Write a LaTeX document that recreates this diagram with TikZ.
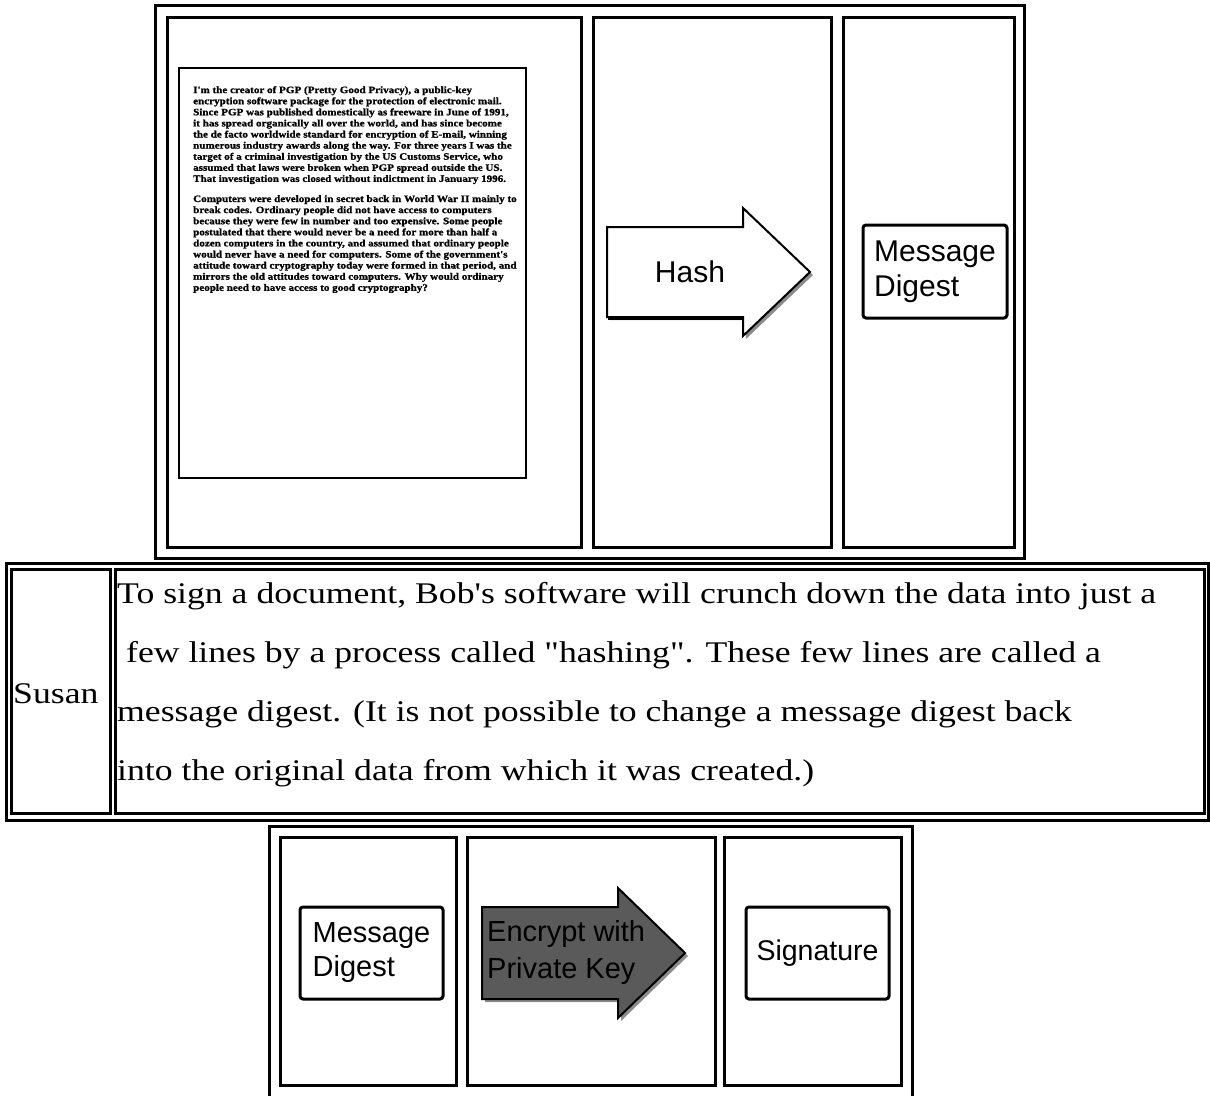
\documentclass[tikz,border=0pt]{standalone}
\usepackage{fontspec}
\newfontfamily\bodyfont{Liberation Serif}[FakeStretch=1.19]
\newfontfamily\labelfont{Liberation Sans}
\newfontfamily\pagefont{Liberation Serif}[FakeStretch=1.13,FakeBold=1.2]
\definecolor{arrowgray}{HTML}{5A5A5A}
\definecolor{shadowgray}{HTML}{8C8C8C}
\begin{document}
\begin{tikzpicture}[x=1pt,y=-1pt,
  frame/.style={draw=black,line width=3pt,line join=miter},
  panel/.style={draw=black,line width=3pt,rounded corners=3pt,fill=white,inner sep=0pt},
  body/.style={font=\bodyfont\fontsize{30}{30}\selectfont,inner sep=0pt},
  arrowline/.style={draw=black,line width=2pt,line join=miter}]
\useasboundingbox (0,0) rectangle (1210,1095);

% ---------- upper table: document, hash, digest ----------
\draw[frame] (155.5,5.5) rectangle (1024.5,558.5);
\draw[frame] (167,17) rectangle (581.5,547);
\draw[frame] (593,17) rectangle (831.5,547);
\draw[frame] (843,17) rectangle (1014,547);

% the signed document page
\draw[line width=1.6pt] (179,68) rectangle (526,478);
\node[anchor=north west,align=left,inner sep=0pt,
      font=\pagefont\bfseries\fontsize{9.8}{11.1}\selectfont] (page) at (193,86) {%
I'm the creator of PGP (Pretty Good Privacy), a public-key\\
encryption software package for the protection of electronic mail.\\
Since PGP was published domestically as freeware in June of 1991,\\
it has spread organically all over the world, and has since become\\
the de facto worldwide standard for encryption of E-mail, winning\\
numerous industry awards along the way. For three years I was the\\
target of a criminal investigation by the US Customs Service, who\\
assumed that laws were broken when PGP spread outside the US.\\
That investigation was closed without indictment in January 1996.\\[9pt]
Computers were developed in secret back in World War II mainly to\\
break codes. Ordinary people did not have access to computers\\
because they were few in number and too expensive. Some people\\
postulated that there would never be a need for more than half a\\
dozen computers in the country, and assumed that ordinary people\\
would never have a need for computers. Some of the government's\\
attitude toward cryptography today were formed in that period, and\\
mirrors the old attitudes toward computers. Why would ordinary\\
people need to have access to good cryptography?};

% hash arrow with its drop shadow
\fill[shadowgray] (610,230) -- (746,230) -- (746,211) -- (813,275) -- (746,339) -- (746,320) -- (610,320) -- cycle;
\draw[arrowline,fill=white] (607,227) -- (743,227) -- (743,208) -- (810,272) -- (743,336) -- (743,317) -- (607,317) -- cycle;
\draw[line width=3pt] (608,318.5) -- (744,318.5);
\node[inner sep=0pt,font=\labelfont\fontsize{30}{30}\selectfont] (hash) at (690,272) {Hash};

% message digest
\node[panel,minimum width=144pt,minimum height=93pt] (digestA) at (935,271.5) {};
\node[align=left,inner sep=0pt,font=\labelfont\fontsize{30}{35}\selectfont] (digestAtxt) at (digestA.center) {Message\\Digest};

% ---------- middle table: caption ----------
\draw[frame] (6,563) rectangle (1208.5,820);
\draw[frame] (11,569.5) rectangle (110,813);
\draw[frame] (115.5,569.5) rectangle (1204.5,813);
\node[body,anchor=base west] (speaker) at (13,703) {Susan};
\node[body,anchor=base west] (lineA) at (117,603) {To sign a document, Bob's software will crunch down the data into just a};
\node[body,anchor=base west] (lineB) at (117,662) {\ few lines by a process called "hashing". These few lines are called a};
\node[body,anchor=base west] (lineC) at (117,721) {message digest. (It is not possible to change a message digest back};
\node[body,anchor=base west] (lineD) at (117,780) {into the original data from which it was created.)};

% ---------- lower table: digest, encrypt, signature ----------
\draw[frame] (269,1100) -- (269,826) -- (912,826) -- (912,1100);
\draw[frame] (280,837) rectangle (456,1085);
\draw[frame] (467,837) rectangle (715,1085);
\draw[frame] (724,837) rectangle (901,1085);

\node[panel,minimum width=143pt,minimum height=92pt] (digestB) at (371.5,953) {};
\node[align=left,inner sep=0pt,font=\labelfont\fontsize{29}{34}\selectfont] (digestBtxt) at (digestB.center) {Message\\Digest};

\fill[shadowgray] (485,910) -- (621,910) -- (621,891) -- (688,956) -- (621,1021) -- (621,1002) -- (485,1002) -- cycle;
\draw[arrowline,fill=arrowgray] (482,907) -- (618,907) -- (618,888) -- (685,953) -- (618,1018) -- (618,999) -- (482,999) -- cycle;
\node[anchor=west,align=left,inner sep=0pt,font=\labelfont\fontsize{29}{37}\selectfont] (encrypt) at (487,952) {Encrypt with\\Private Key};

\node[panel,minimum width=143pt,minimum height=92pt] (sig) at (817.5,953) {};
\node[inner sep=0pt,font=\labelfont\fontsize{28.5}{28.5}\selectfont] (sigtxt) at (sig.center) {Signature};
\end{tikzpicture}
\end{document}
